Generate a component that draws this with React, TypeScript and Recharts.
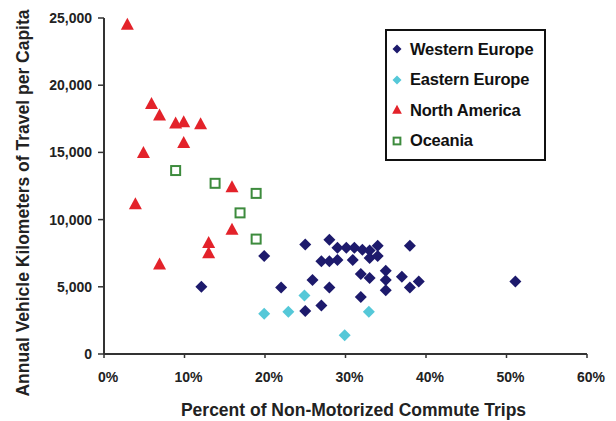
import { Legend, Scatter, ScatterChart, XAxis, YAxis } from "recharts";

// Percent of non-motorized commute trips (x) vs annual VKT per capita (y)
const westernEurope = [
  { x: 12.1, y: 5000 },
  { x: 19.9, y: 7300 },
  { x: 22.0, y: 4950 },
  { x: 25.0, y: 8150 },
  { x: 25.9, y: 5500 },
  { x: 25.0, y: 3200 },
  { x: 27.0, y: 3600 },
  { x: 28.0, y: 4950 },
  { x: 28.0, y: 8500 },
  { x: 27.0, y: 6900 },
  { x: 28.0, y: 6900 },
  { x: 29.0, y: 7000 },
  { x: 29.0, y: 7900 },
  { x: 30.1, y: 7900 },
  { x: 31.1, y: 7900 },
  { x: 32.1, y: 7750 },
  { x: 30.9, y: 7000 },
  { x: 33.0, y: 7700 },
  { x: 34.0, y: 8050 },
  { x: 33.0, y: 7150 },
  { x: 34.0, y: 7300 },
  { x: 31.9, y: 5950 },
  { x: 33.0, y: 5650 },
  { x: 31.9, y: 4250 },
  { x: 35.0, y: 6200 },
  { x: 35.0, y: 5500 },
  { x: 35.0, y: 4750 },
  { x: 37.0, y: 5750 },
  { x: 38.0, y: 8050 },
  { x: 38.0, y: 4950 },
  { x: 39.1, y: 5400 },
  { x: 51.1, y: 5400 },
];

const easternEurope = [
  { x: 19.9, y: 3000 },
  { x: 22.9, y: 3150 },
  { x: 24.9, y: 4350 },
  { x: 29.9, y: 1400 },
  { x: 32.9, y: 3150 },
];

const northAmerica = [
  { x: 2.9, y: 24500 },
  { x: 5.9, y: 18600 },
  { x: 6.9, y: 17750 },
  { x: 8.9, y: 17150 },
  { x: 9.9, y: 17250 },
  { x: 12.0, y: 17100 },
  { x: 9.9, y: 15700 },
  { x: 4.9, y: 14950 },
  { x: 15.9, y: 12400 },
  { x: 3.9, y: 11150 },
  { x: 15.9, y: 9250 },
  { x: 13.0, y: 8250 },
  { x: 13.0, y: 7500 },
  { x: 6.9, y: 6650 },
];

const oceania = [
  { x: 8.9, y: 13650 },
  { x: 13.8, y: 12700 },
  { x: 18.9, y: 11950 },
  { x: 16.9, y: 10500 },
  { x: 18.9, y: 8550 },
];

const xTicks = [0, 10, 20, 30, 40, 50, 60];
const yTicks = [0, 5000, 10000, 15000, 20000, 25000];

const NAVY = "#1d1a6c";
const CYAN = "#55c8d8";
const RED = "#e3222a";
const GREEN = "#3d8b3d";
const FONT = "'Liberation Sans', Arial, sans-serif";

const regions = [
  { name: "Western Europe", data: westernEurope, color: NAVY, kind: "diamond" },
  { name: "Eastern Europe", data: easternEurope, color: CYAN, kind: "diamond" },
  { name: "North America", data: northAmerica, color: RED, kind: "triangle" },
  { name: "Oceania", data: oceania, color: GREEN, kind: "square" },
];

function Marker({ kind, color, cx, cy, s = 1 }: any) {
  if (kind === "diamond") {
    const r = 6 * s;
    return (
      <polygon
        points={`${cx},${cy - r} ${cx + r},${cy} ${cx},${cy + r} ${cx - r},${cy}`}
        fill={color}
      />
    );
  }
  if (kind === "triangle") {
    const w = 6.5 * s;
    return (
      <polygon
        points={`${cx},${cy - 7 * s} ${cx + w},${cy + 5 * s} ${cx - w},${cy + 5 * s}`}
        fill={color}
      />
    );
  }
  const h = 4.5 * s;
  return (
    <rect
      x={cx - h}
      y={cy - h}
      width={2 * h}
      height={2 * h}
      fill="#fff"
      stroke={color}
      strokeWidth={2}
    />
  );
}

function LegendBox() {
  return (
    <div
      style={{
        border: "2px solid #111",
        width: 157,
        padding: "3px 0 3px 0",
        background: "#fff",
        fontFamily: FONT,
        fontWeight: 700,
        fontSize: 16.5,
        color: "#111",
        letterSpacing: -0.2,
      }}
    >
      {regions.map((r) => (
        <div
          key={r.name}
          style={{ height: 30.5, display: "flex", alignItems: "center" }}
        >
          <svg width={22} height={14} style={{ marginLeft: 1 }}>
            <Marker kind={r.kind} color={r.color} cx={9} cy={7} s={0.75} />
          </svg>
          <span>{r.name}</span>
        </div>
      ))}
    </div>
  );
}

const tickStyle = { fontSize: 14, fontWeight: 700, fill: "#222", fontFamily: FONT };
const titleStyle = { fontSize: 17.5, fontWeight: 700, fill: "#222", fontFamily: FONT };

export default function App() {
  return (
    <div style={{ width: 616, height: 421, background: "#fff" }}>
      <style>{`body{margin:0}`}</style>
      <ScatterChart
        width={616}
        height={421}
        margin={{ top: 18, right: 29, bottom: 7, left: 0 }}
      >
        <XAxis
          type="number"
          dataKey="x"
          height={60}
          domain={[0, 60]}
          ticks={xTicks}
          interval={0}
          tickFormatter={(v: number) => `${v}%`}
          tick={{ ...tickStyle, dx: 4 }}
          axisLine={{ stroke: "#333", strokeWidth: 2 }}
          tickLine={{ stroke: "#333", strokeWidth: 1.5 }}
          tickSize={4}
          tickMargin={14}
          label={{
            content: ({ viewBox }: any) => (
              <text
                x={viewBox.x + viewBox.width / 2 + 8}
                y={416}
                textAnchor="middle"
                style={titleStyle}
              >
                Percent of Non-Motorized Commute Trips
              </text>
            ),
          }}
        />
        <YAxis
          type="number"
          dataKey="y"
          width={104}
          domain={[0, 25000]}
          ticks={yTicks}
          interval={0}
          tickFormatter={(v: number) => v.toLocaleString("en-US")}
          tick={tickStyle}
          axisLine={{ stroke: "#333", strokeWidth: 2 }}
          tickLine={{ stroke: "#333", strokeWidth: 1.5 }}
          tickSize={6}
          tickMargin={6}
          label={{
            content: () => (
              <text
                x={0}
                y={0}
                transform="translate(23,203) rotate(-90)"
                textAnchor="middle"
                dominantBaseline="central"
                style={titleStyle}
              >
                Annual Vehicle Kilometers of Travel per Capita
              </text>
            ),
          }}
        />
        <Legend
          layout="vertical"
          align="center"
          verticalAlign="middle"
          wrapperStyle={{ left: 385, top: 29, width: 161 }}
          content={() => <LegendBox />}
        />
        {regions.map((r) => (
          <Scatter
            key={r.name}
            name={r.name}
            data={r.data}
            isAnimationActive={false}
            shape={(p: any) => (
              <Marker kind={r.kind} color={r.color} cx={p.cx} cy={p.cy} />
            )}
          />
        ))}
      </ScatterChart>
    </div>
  );
}
